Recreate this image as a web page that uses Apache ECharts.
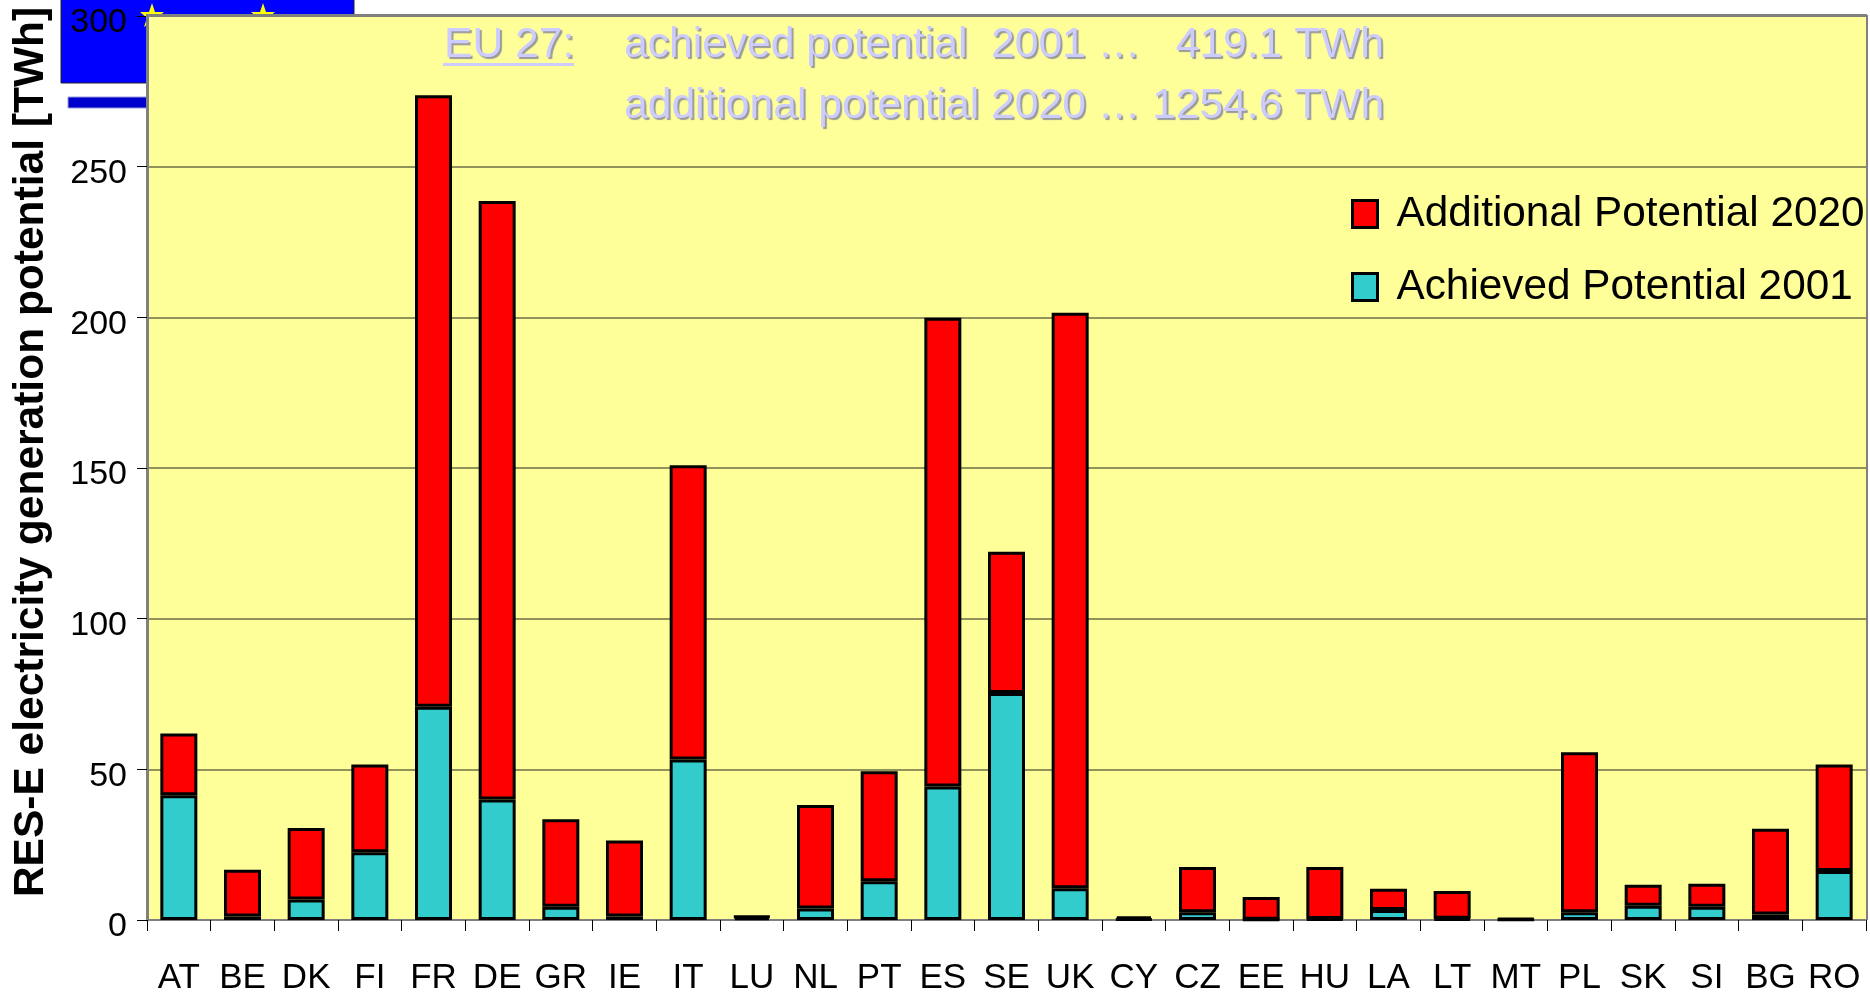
<!DOCTYPE html>
<html>
<head>
<meta charset="utf-8">
<style>
html, body { margin: 0; padding: 0; background: #fff; }
#chart { width: 1870px; height: 993px; }
</style>
<script src="https://cdn.jsdelivr.net/npm/echarts@6/dist/echarts.min.js"></script>
</head>
<body>
<div id="chart"></div>
<script>
var countries = ['AT','BE','DK','FI','FR','DE','GR','IE','IT','LU','NL','PT','ES','SE','UK','CY','CZ','EE','HU','LA','LT','MT','PL','SK','SI','BG','RO'];
var achieved2001 = [41.4, 1.2, 6.8, 22.5, 70.8, 40, 4.4, 1.2, 53.3, 0.9, 3.8, 12.9, 44.3, 75.3, 10.5, 0.3, 2.6, 0.1, 0.3, 3.3, 0.4, 0.1, 2.6, 4.7, 4.4, 1.8, 16.3];
var additional2020 = [20.5, 15.5, 23.7, 29.1, 202.9, 198.6, 29, 25.2, 97.6, 0.3, 34.4, 36.5, 155.6, 46.9, 191, 0.9, 15, 7.5, 17.3, 7.1, 9.2, 0.4, 53.1, 7, 7.6, 28.5, 35.3];
var yTitle = 'RES-E electricity generation potential [TWh]';
var noteHead = 'EU 27:';
var noteLine1 = 'achieved potential  2001 \u2026   419.1 TWh';
var noteLine2 = 'additional potential 2020 \u2026 1254.6 TWh';

var chart = echarts.init(document.getElementById('chart'));

// notes on the plot all share this look
function noteText(text, x, y) {
    return {
        type: 'text', z: 50, x: x, y: y,
        style: {
            text: text, fill: '#ccccff',
            font: '42.6px "Liberation Sans"',
            verticalAlign: 'bottom',
            textShadowColor: '#9a9a9a', textShadowOffsetX: 2, textShadowOffsetY: 2, textShadowBlur: 1
        }
    };
}

function star(cx) {
    return {
        type: 'polygon', z: -5, x: cx, y: 14,
        shape: { points: [[0,-11],[3,-2],[12,-2],[5,4],[8,13],[0,7],[-8,13],[-5,4],[-12,-2],[-3,-2]] },
        style: { fill: '#ffff00' }
    };
}

var option = {
    animation: false,
    backgroundColor: '#ffffff',
    textStyle: { fontFamily: '"Liberation Sans"' },
    grid: { left: 147, right: 4, top: 16, bottom: 73, show: true, backgroundColor: '#ffff99', borderWidth: 0, outerBoundsMode: 'none' },
    legend: {
        left: 1346, top: 188, orient: 'vertical', icon: 'rect',
        itemWidth: 25, itemHeight: 27, itemGap: 31,
        data: ['Additional Potential 2020', 'Achieved Potential 2001'],
        textStyle: { fontSize: 42.3, color: '#000', padding: [0, 0, 0, 14] },
        itemStyle: { borderColor: '#000', borderWidth: 3 }
    },
    xAxis: {
        type: 'category', data: countries,
        axisLine: { lineStyle: { color: '#808080', width: 2 } },
        axisTick: { show: true, alignWithLabel: false, length: 11, lineStyle: { color: '#000', width: 1 } },
        axisLabel: { interval: 0, fontSize: 35, color: '#000', margin: 41 }
    },
    yAxis: {
        type: 'value', min: 0, max: 300, interval: 50,
        name: yTitle, nameLocation: 'middle', nameGap: 94,
        nameTextStyle: { fontSize: 42.5, fontWeight: 'bold', color: '#000', padding: [0, 0, 0, 32] },
        axisLine: { show: true, lineStyle: { color: '#808080', width: 3 } },
        axisTick: { show: true, length: 10, lineStyle: { color: '#000', width: 1 } },
        // top align with a short line height drops the numbers just under their ticks
        axisLabel: { fontSize: 34, color: '#000', margin: 20, verticalAlign: 'top', lineHeight: 14 },
        splitLine: { show: true, lineStyle: { color: '#6e6e4a', width: 1.5 } }
    },
    series: [
        {
            name: 'Achieved Potential 2001', type: 'bar', stack: 'total', data: achieved2001,
            barWidth: 37,
            itemStyle: { color: '#33cccc', borderColor: '#000', borderWidth: 3 }
        },
        {
            name: 'Additional Potential 2020', type: 'bar', stack: 'total', data: additional2020,
            barWidth: 37,
            itemStyle: { color: '#ff0000', borderColor: '#000', borderWidth: 3 }
        }
    ],
    graphic: [
        // EU flag and strip sitting behind the plot
        { type: 'rect', z: -10, shape: { x: 61, y: -2, width: 293, height: 85 }, style: { fill: '#0000ff', stroke: '#222222', lineWidth: 1 } },
        { type: 'rect', z: -10, shape: { x: 68, y: 97, width: 90, height: 11 }, style: { fill: '#0000cc', stroke: '#9999dd', lineWidth: 1 } },
        star(152), star(263),
        // top and right border of the plot
        { type: 'rect', z: 40, shape: { x: 146, y: 14, width: 1721, height: 3 }, style: { fill: '#808080' } },
        { type: 'rect', z: 40, shape: { x: 1866, y: 15, width: 2, height: 905 }, style: { fill: '#808080' } },
        noteText(noteHead, 444, 67),
        { type: 'rect', z: 50, shape: { x: 443, y: 63, width: 131, height: 3 }, style: { fill: '#ccccff' } },
        noteText(noteLine1, 624, 67),
        noteText(noteLine2, 624, 128)
    ]
};
chart.setOption(option);
</script>
</body>
</html>
